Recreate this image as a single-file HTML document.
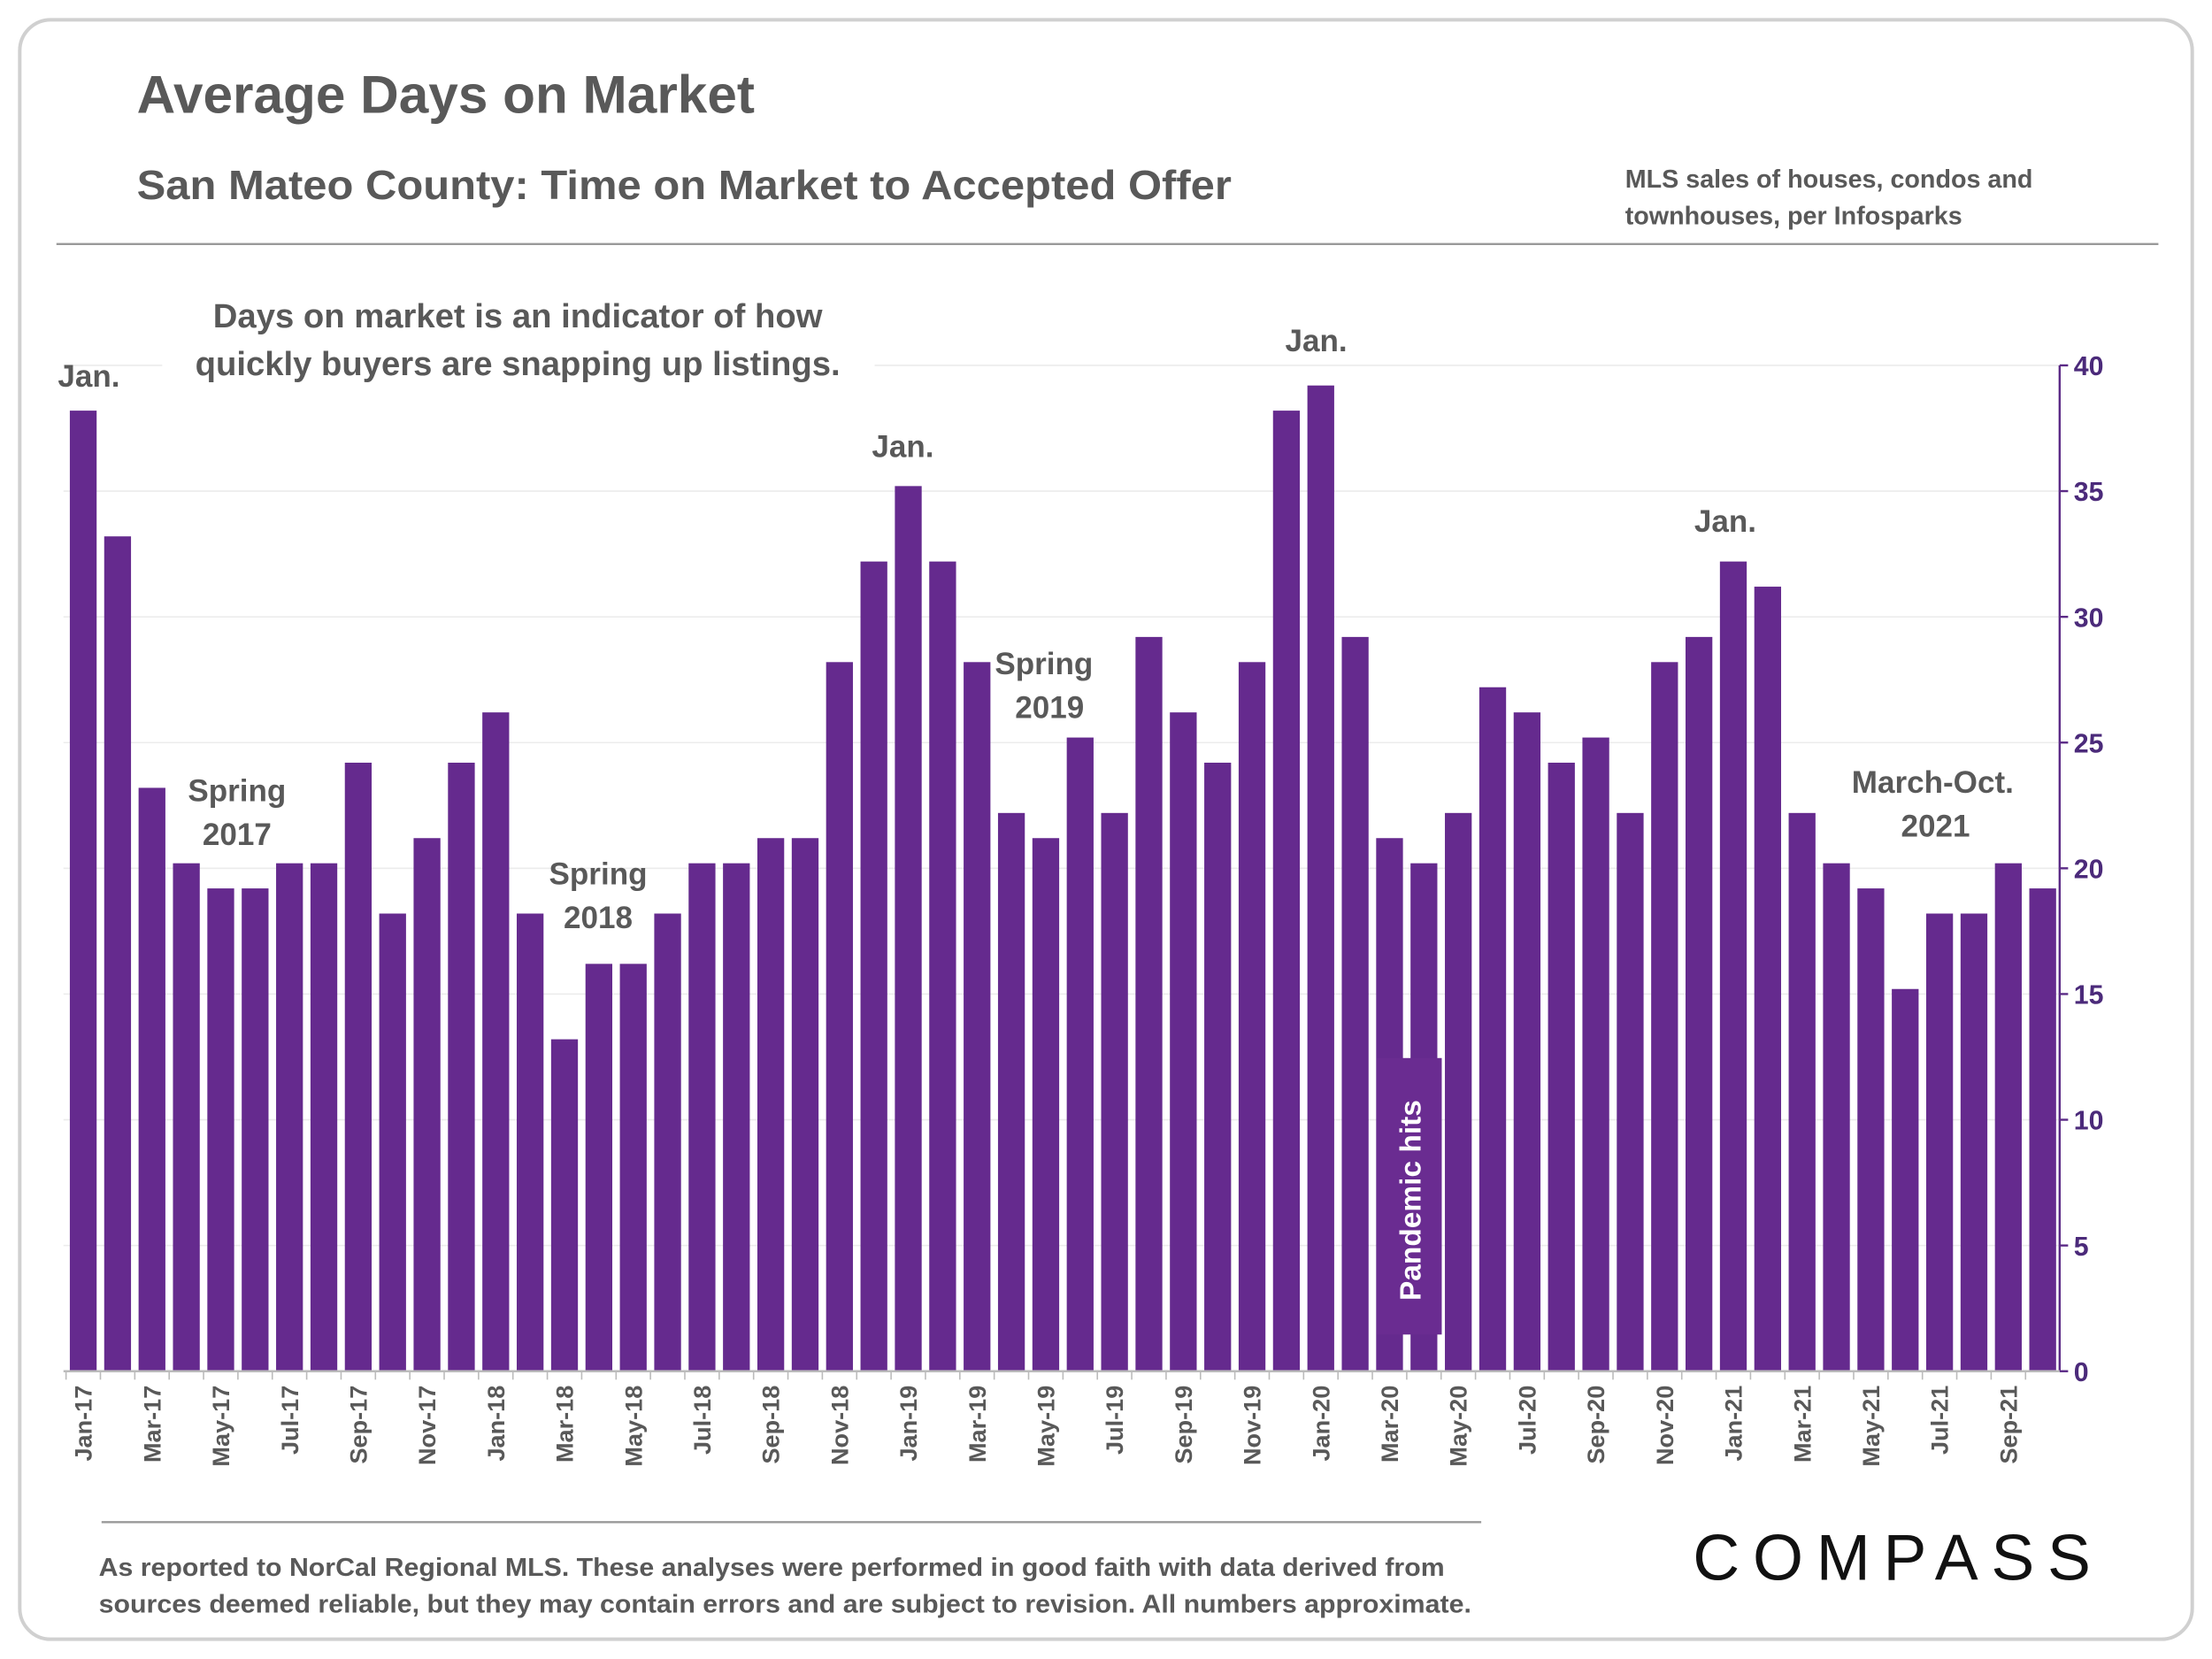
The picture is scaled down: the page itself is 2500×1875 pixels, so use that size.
<!DOCTYPE html>
<html><head><meta charset="utf-8"><style>
html,body{margin:0;padding:0;background:#fff}
svg{display:block}
text{font-family:"Liberation Sans",sans-serif}
</style></head><body>
<svg id="chart" width="2500" height="1875" viewBox="0 0 1568 1176" xmlns="http://www.w3.org/2000/svg">
<rect x="14" y="14" width="1540" height="1148" rx="22" fill="#fff" stroke="#d0d0d0" stroke-width="2.5"/>
<text x="97" y="80" font-size="38" font-weight="bold" fill="#595959" textLength="438" lengthAdjust="spacingAndGlyphs">Average Days on Market</text>
<text x="97" y="141" font-size="29" font-weight="bold" fill="#595959" textLength="776" lengthAdjust="spacingAndGlyphs">San Mateo County: Time on Market to Accepted Offer</text>
<text font-size="18" font-weight="bold" fill="#595959"><tspan x="1152" y="133">MLS sales of houses, condos and</tspan><tspan x="1152" y="159">townhouses, per Infosparks</tspan></text>
<line x1="40" y1="173" x2="1530" y2="173" stroke="#999" stroke-width="1.5"/>
<g id="grid"></g>
<g id="bars"></g>
<g id="axis"></g>
<rect x="115" y="203" width="505" height="70" fill="#fff"/>
<text font-size="24" font-weight="bold" fill="#595959" text-anchor="middle"><tspan x="367" y="232">Days on market is an indicator of how</tspan><tspan x="367" y="266">quickly buyers are snapping up listings.</tspan></text>
<g font-size="22" font-weight="bold" fill="#595959" text-anchor="middle">
<text x="63" y="274">Jan.</text>
<text x="640" y="324">Jan.</text>
<text x="933" y="249">Jan.</text>
<text x="1223" y="377">Jan.</text>
<text><tspan x="168" y="568">Spring</tspan><tspan x="168" y="599">2017</tspan></text>
<text><tspan x="424" y="627">Spring</tspan><tspan x="424" y="658">2018</tspan></text>
<text><tspan x="740" y="478">Spring</tspan><tspan x="744" y="509">2019</tspan></text>
<text><tspan x="1370" y="562">March-Oct.</tspan><tspan x="1372" y="593">2021</tspan></text>
</g>
<rect x="976" y="750" width="46" height="196" fill="#6a2c91"/>
<text transform="translate(1007,922) rotate(-90)" font-size="21" font-weight="bold" fill="#fff">Pandemic hits</text>
<line x1="72" y1="1079" x2="1050" y2="1079" stroke="#999" stroke-width="1.5"/>
<text font-size="18" font-weight="bold" fill="#595959"><tspan x="70" y="1117" textLength="954" lengthAdjust="spacingAndGlyphs">As reported to NorCal Regional MLS. These analyses were performed in good faith with data derived from</tspan><tspan x="70" y="1143" textLength="973" lengthAdjust="spacingAndGlyphs">sources deemed reliable, but they may contain errors and are subject to revision. All numbers approximate.</tspan></text>
<text x="1200" y="1120" font-size="46" fill="#111" textLength="282" lengthAdjust="spacing">COMPASS</text>
</svg>
<script>
const categories=["Jan-17","Feb-17","Mar-17","Apr-17","May-17","Jun-17","Jul-17","Aug-17","Sep-17","Oct-17","Nov-17","Dec-17","Jan-18","Feb-18","Mar-18","Apr-18","May-18","Jun-18","Jul-18","Aug-18","Sep-18","Oct-18","Nov-18","Dec-18","Jan-19","Feb-19","Mar-19","Apr-19","May-19","Jun-19","Jul-19","Aug-19","Sep-19","Oct-19","Nov-19","Dec-19","Jan-20","Feb-20","Mar-20","Apr-20","May-20","Jun-20","Jul-20","Aug-20","Sep-20","Oct-20","Nov-20","Dec-20","Jan-21","Feb-21","Mar-21","Apr-21","May-21","Jun-21","Jul-21","Aug-21","Sep-21","Oct-21"];
const daysOnMarket=[38.2,33.2,23.2,20.2,19.2,19.2,20.2,20.2,24.2,18.2,21.2,24.2,26.2,18.2,13.2,16.2,16.2,18.2,20.2,20.2,21.2,21.2,28.2,32.2,35.2,32.2,28.2,22.2,21.2,25.2,22.2,29.2,26.2,24.2,28.2,38.2,39.2,29.2,21.2,20.2,22.2,27.2,26.2,24.2,25.2,22.2,28.2,29.2,32.2,31.2,22.2,20.2,19.2,15.2,18.2,18.2,20.2,19.2];
const yTicks=[0,5,10,15,20,25,30,35,40];
const NS="http://www.w3.org/2000/svg";
const x0=59,step=(1448-59)/57,bw=19,yBase=972,yTop=259,yMax=40;
const xs=i=>x0+i*step;
const ys=v=>yBase-(v/yMax)*(yBase-yTop);
function mk(tag,attrs,parent){const e=document.createElementNS(NS,tag);for(const k in attrs)e.setAttribute(k,attrs[k]);parent.appendChild(e);return e;}
const grid=document.getElementById('grid'),bars=document.getElementById('bars'),axis=document.getElementById('axis');
yTicks.forEach(t=>{
  if(t>0){const g=mk('line',{x1:45,x2:1460,y1:ys(t),y2:ys(t),stroke:'#ececec','stroke-width':1},grid);
  
  }
  const tk=mk('line',{x1:1460,x2:1466,y1:ys(t),y2:ys(t),stroke:'#5b2a86','stroke-width':1.5},axis);
  
  
  const lb=mk('text',{x:1470,y:ys(t)+7,'font-size':19,'font-weight':'bold',fill:'#4b2a7a'},axis);
  
  
  lb.textContent=t;
});
const ya=mk('line',{x1:1460,x2:1460,y1:yTop,y2:yBase,stroke:'#5b2a86','stroke-width':1.5},axis);


const xa=mk('line',{x1:45,x2:1460,y1:yBase,y2:yBase,stroke:'#bbb','stroke-width':1.5},axis);


daysOnMarket.forEach((v,i)=>{
  const r=mk('rect',{x:xs(i)-bw/2,y:ys(v),width:bw,height:yBase-ys(v),fill:'#652a8e'},bars);
  
  
  const tk=mk('line',{x1:xs(i)-step/2,x2:xs(i)-step/2,y1:yBase,y2:yBase+6,stroke:'#bbb','stroke-width':1},axis);
  
  
  if(i%2===0){
    const t=mk('text',{transform:`translate(${xs(i)+6},${yBase+10}) rotate(-90)`,'font-size':17,'font-weight':'bold',fill:'#595959','text-anchor':'end'},axis);
    
    
    t.textContent=categories[i];
  }
});
</script>
</body></html>
